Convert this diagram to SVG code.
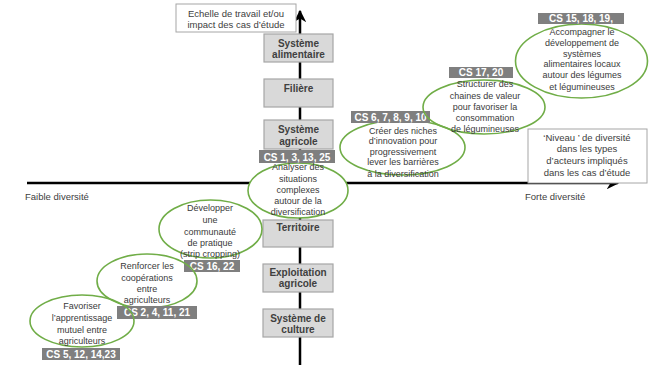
<svg xmlns="http://www.w3.org/2000/svg" width="650" height="370" viewBox="0 0 650 370">
<style>
text{font-family:"Liberation Sans",Arial,sans-serif;}
.lvl{fill:#d9d9d9;stroke:#a6a6a6;stroke-width:1.2;}
.lt{font-size:10px;font-weight:bold;fill:#404040;text-anchor:middle;}
.ell{fill:none;stroke:#70ad47;stroke-width:1.6;}
.et{font-size:9px;fill:#3a3a3a;text-anchor:middle;}
.cs{fill:#7f7f7f;}
.ct{font-size:10px;font-weight:bold;fill:#ffffff;text-anchor:middle;}
.note{fill:#ffffff;stroke:#a6a6a6;stroke-width:1;}
.nt{font-size:9.5px;fill:#404040;text-anchor:middle;}
.ax{stroke:#000;stroke-width:2.5;fill:none;}
</style>
<defs>
<marker id="ah" viewBox="0 0 10 10" refX="9" refY="5" markerWidth="5" markerHeight="5" orient="auto" markerUnits="strokeWidth">
<path d="M0,0 L10,5 L0,10 L3,5 Z" fill="#000"/>
</marker>
</defs>
<rect width="650" height="370" fill="#ffffff"/>
<g id="connectors">
<line class="ax" x1="300" y1="365" x2="300" y2="11" marker-end="url(#ah)"/>
<line class="ax" x1="27" y1="183" x2="618" y2="183" marker-end="url(#ah)"/>
</g>
<g id="axis-labels">
<g id="echelle"><rect class="note" x="176" y="4" width="120" height="28"/>
<text class="nt" x="236" y="16.5">Echelle de travail et/ou</text>
<text class="nt" x="236" y="27.5">impact des cas d’étude</text></g>
<g id="niveau"><rect class="note" x="528" y="129" width="119" height="54"/>
<text class="nt" x="587" y="140.5">‘Niveau ’ de diversité</text>
<text class="nt" x="587" y="152">dans les types</text>
<text class="nt" x="587" y="164">d’acteurs impliqués</text>
<text class="nt" x="587" y="175.5">dans les cas d’étude</text></g>
<text id="faible" x="25" y="199.5" style="font-size:9.5px;fill:#404040">Faible diversité</text>
<text id="forte" x="525" y="199.5" style="font-size:9.5px;fill:#404040">Forte diversité</text>
</g>
<g id="levels">
<g id="systeme-alimentaire"><rect class="lvl" x="264" y="34" width="69" height="28"/>
<text class="lt" x="298.5" y="46.5">Système</text><text class="lt" x="298.5" y="57.5">alimentaire</text></g>
<g id="filiere"><rect class="lvl" x="264" y="79" width="69" height="28"/>
<text class="lt" x="298.5" y="91.5">Filière</text></g>
<g id="systeme-agricole"><rect class="lvl" x="264" y="120" width="69" height="29"/>
<text class="lt" x="298.5" y="132.5">Système</text><text class="lt" x="298.5" y="144.5">agricole</text></g>
<g id="territoire"><rect class="lvl" x="263" y="220" width="70" height="27"/>
<text class="lt" x="298" y="230.5">Territoire</text></g>
<g id="exploitation"><rect class="lvl" x="263" y="264" width="70" height="28"/>
<text class="lt" x="298" y="275.5">Exploitation</text><text class="lt" x="298" y="286.5">agricole</text></g>
<g id="systeme-culture"><rect class="lvl" x="263" y="309" width="70" height="28"/>
<text class="lt" x="298" y="321.5">Système de</text><text class="lt" x="298" y="332.5">culture</text></g>
</g>
<g id="analyser">
<ellipse class="ell" cx="298" cy="190.5" rx="50" ry="27.5" style="fill:#ffffff"/>
<text class="et" x="298" y="170">Analyser des</text>
<text class="et" x="298" y="181.5">situations</text>
<text class="et" x="298" y="193">complexes</text>
<text class="et" x="298" y="204">autour de la</text>
<text class="et" x="298" y="215">diversification</text>
<rect class="cs" x="259" y="150" width="76" height="13"/>
<text class="ct" x="297" y="160.5">CS 1, 3, 13, 25</text>
</g>
<g id="creer">
<ellipse class="ell" cx="402.5" cy="147.5" rx="62.5" ry="27.5"/>
<rect class="cs" x="351" y="111" width="79" height="12"/>
<text class="ct" x="390.5" y="120.8" textLength="72" lengthAdjust="spacingAndGlyphs">CS 6, 7, 8, 9, 10</text>
<text class="et" x="403" y="133.5">Créer des niches</text>
<text class="et" x="403" y="144">d’innovation pour</text>
<text class="et" x="403" y="154.7">progressivement</text>
<text class="et" x="403" y="165">lever les barrières</text>
<text class="et" x="403" y="177">à la diversification</text>
</g>
<g id="structurer">
<ellipse class="ell" cx="484" cy="107" rx="61" ry="27"/>
<rect class="cs" x="449" y="67" width="64" height="11"/>
<text class="ct" x="481" y="76.3">CS 17, 20</text>
<text class="et" x="485" y="87">Structurer des</text>
<text class="et" x="485" y="98.7">chaines de valeur</text>
<text class="et" x="485" y="109.7">pour favoriser la</text>
<text class="et" x="485" y="121.3">consommation</text>
<text class="et" x="485" y="132">de légumineuses</text>
</g>
<g id="accompagner">
<ellipse class="ell" cx="581.5" cy="61" rx="66" ry="37"/>
<rect class="cs" x="538" y="13" width="86" height="11"/>
<text class="ct" x="581" y="22.3">CS 15, 18, 19,</text>
<text class="et" x="582" y="35">Accompagner le</text>
<text class="et" x="582" y="46">développement de</text>
<text class="et" x="582" y="56.5">systèmes</text>
<text class="et" x="582" y="66.5">alimentaires locaux</text>
<text class="et" x="582" y="78">autour des légumes</text>
<text class="et" x="582" y="90">et légumineuses</text>
</g>
<g id="developper">
<ellipse class="ell" cx="210.5" cy="229" rx="51.5" ry="29"/>
<text class="et" x="210" y="211">Développer</text>
<text class="et" x="210" y="223">une</text>
<text class="et" x="210" y="235">communauté</text>
<text class="et" x="210" y="246">de pratique</text>
<text class="et" x="210" y="257">(strip cropping)</text>
<rect class="cs" x="184" y="260" width="56" height="12"/>
<text class="ct" x="212" y="269.8">CS 16, 22</text>
</g>
<g id="renforcer">
<ellipse class="ell" cx="147" cy="281" rx="50" ry="27"/>
<text class="et" x="147" y="269">Renforcer les</text>
<text class="et" x="147" y="281">coopérations</text>
<text class="et" x="147" y="292">entre</text>
<text class="et" x="147" y="303">agriculteurs</text>
<rect class="cs" x="117" y="306" width="80" height="13"/>
<text class="ct" x="157" y="316.3">CS 2, 4, 11, 21</text>
</g>
<g id="favoriser">
<ellipse class="ell" cx="82" cy="321" rx="52" ry="26"/>
<text class="et" x="82" y="309">Favoriser</text>
<text class="et" x="82" y="321">l’apprentissage</text>
<text class="et" x="82" y="333">mutuel entre</text>
<text class="et" x="82" y="344">agriculteurs</text>
<rect class="cs" x="42" y="348" width="78" height="12"/>
<text class="ct" x="81" y="357.8">CS 5, 12, 14,23</text>
</g>
</svg>
